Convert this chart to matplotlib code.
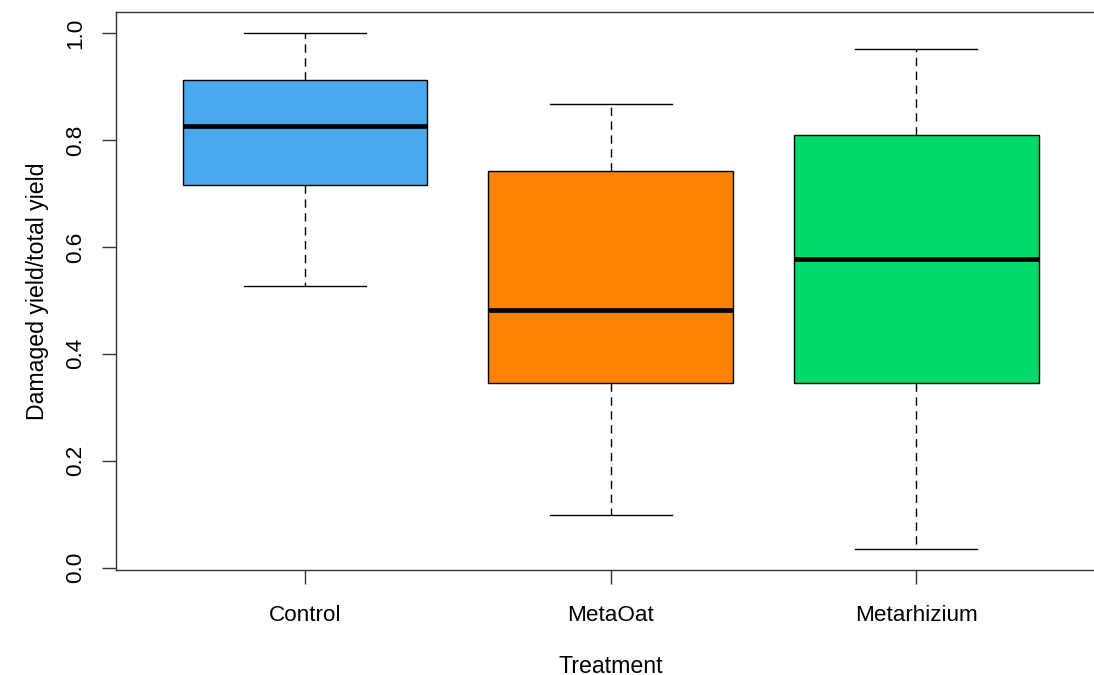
import matplotlib
matplotlib.use("Agg")
import matplotlib.pyplot as plt

categories = ["Control", "MetaOat", "Metarhizium"]
whisker_low = [0.526, 0.099, 0.034]
q1 = [0.715, 0.345, 0.345]
median = [0.826, 0.481, 0.577]
q3 = [0.912, 0.742, 0.809]
whisker_high = [1.000, 0.867, 0.970]
box_colors = ["#4AA8EE", "#FF8300", "#00DA6A"]
y_ticks = [0.0, 0.2, 0.4, 0.6, 0.8, 1.0]
y_ticklabels = ["0.0", "0.2", "0.4", "0.6", "0.8", "1.0"]

plt.rcParams["font.family"] = ["Liberation Sans", "DejaVu Sans"]

fig = plt.figure(figsize=(10.94, 6.75), dpi=100)
W, H = 1094, 675
left, right, top, bottom = 115.5, 1105.8, 12.3, 569.7
ax = fig.add_axes([left / W, 1 - bottom / H, (right - left) / W, (bottom - top) / H])

stats = []
for i, name in enumerate(categories):
    stats.append(dict(label=name, whislo=whisker_low[i], q1=q1[i], med=median[i],
                      q3=q3[i], whishi=whisker_high[i], fliers=[]))

positions = list(range(1, len(categories) + 1))
bp = ax.bxp(stats, positions=positions, widths=0.8, patch_artist=True,
            showfliers=False,
            boxprops=dict(edgecolor="black", linewidth=1.0),
            medianprops=dict(color="black", linewidth=3.4, solid_capstyle="butt"),
            whiskerprops=dict(color="black", linewidth=1.0, linestyle=(0, (6, 4))),
            capprops=dict(color="black", linewidth=1.0),
            capwidths=0.4)
for patch, c in zip(bp["boxes"], box_colors):
    patch.set_facecolor(c)

ax.set_xlim(0.38, 3.62)
ax.set_ylim(-0.004, 1.0387)
ax.set_yticks(y_ticks)
ax.set_yticklabels(y_ticklabels, rotation=90, va="center")
ax.set_xticks(positions)
ax.set_xticklabels(categories)
ax.tick_params(axis="both", length=10, width=1.0, labelsize=16.2, color="#333333")
ax.tick_params(axis="y", pad=11)
ax.tick_params(axis="x", pad=15.5)
for s in ax.spines.values():
    s.set_linewidth(1.0)
    s.set_color("#333333")

ax.set_xlabel("Treatment", fontsize=16.7, labelpad=20.5)
ax.set_ylabel("Damaged yield/total yield", fontsize=16.7, labelpad=12)

fig.savefig("out.png", dpi=100)
